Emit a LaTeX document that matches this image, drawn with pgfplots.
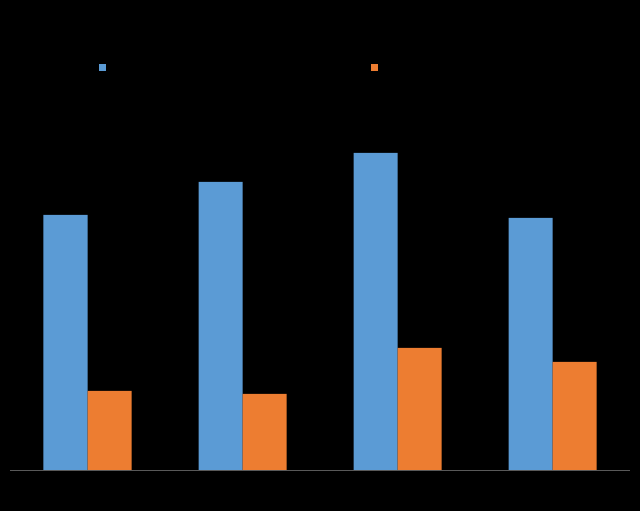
\documentclass[border=0pt]{standalone}
\usepackage{pgfplots}
\pgfplotsset{compat=1.18}
\definecolor{sblue}{HTML}{5B9BD5}
\definecolor{sorange}{HTML}{ED7D31}
\definecolor{axgray}{HTML}{595959}
\begin{document}
\begin{tikzpicture}
\fill[black] (0,0) rectangle (640bp,511bp);
\useasboundingbox (0,0) rectangle (640bp,511bp);
\begin{axis}[
at={(10bp,41bp)}, anchor=south west,
scale only axis, width=620bp, height=440bp,
ybar=0pt, bar width=44bp,
xmin=-0.5, xmax=3.5, ymin=0, ymax=440,
axis x line=bottom, axis y line=none,
x axis line style={draw=axgray, line width=0.8bp, -},
xtick=\empty, ytick=\empty,
clip=false,
legend style={at={(0.1435,0.914)}, anchor=west, draw=none, fill=none,
  inner sep=0pt, legend columns=2,
  nodes={inner sep=0pt, text width=265bp, text=black, font=\footnotesize},
  /tikz/every even column/.style={column sep=0pt}},
legend image code/.code={\fill[#1] (0bp,-3.5bp) rectangle (7bp,3.5bp);},
]
\addplot[fill=sblue, draw=none] coordinates {(0,255) (1,288) (2,317) (3,252)};
\addplot[fill=sorange, draw=none] coordinates {(0,79) (1,76) (2,122) (3,108)};
\legend{Series 1,Series 2}
\end{axis}
\end{tikzpicture}
\end{document}
